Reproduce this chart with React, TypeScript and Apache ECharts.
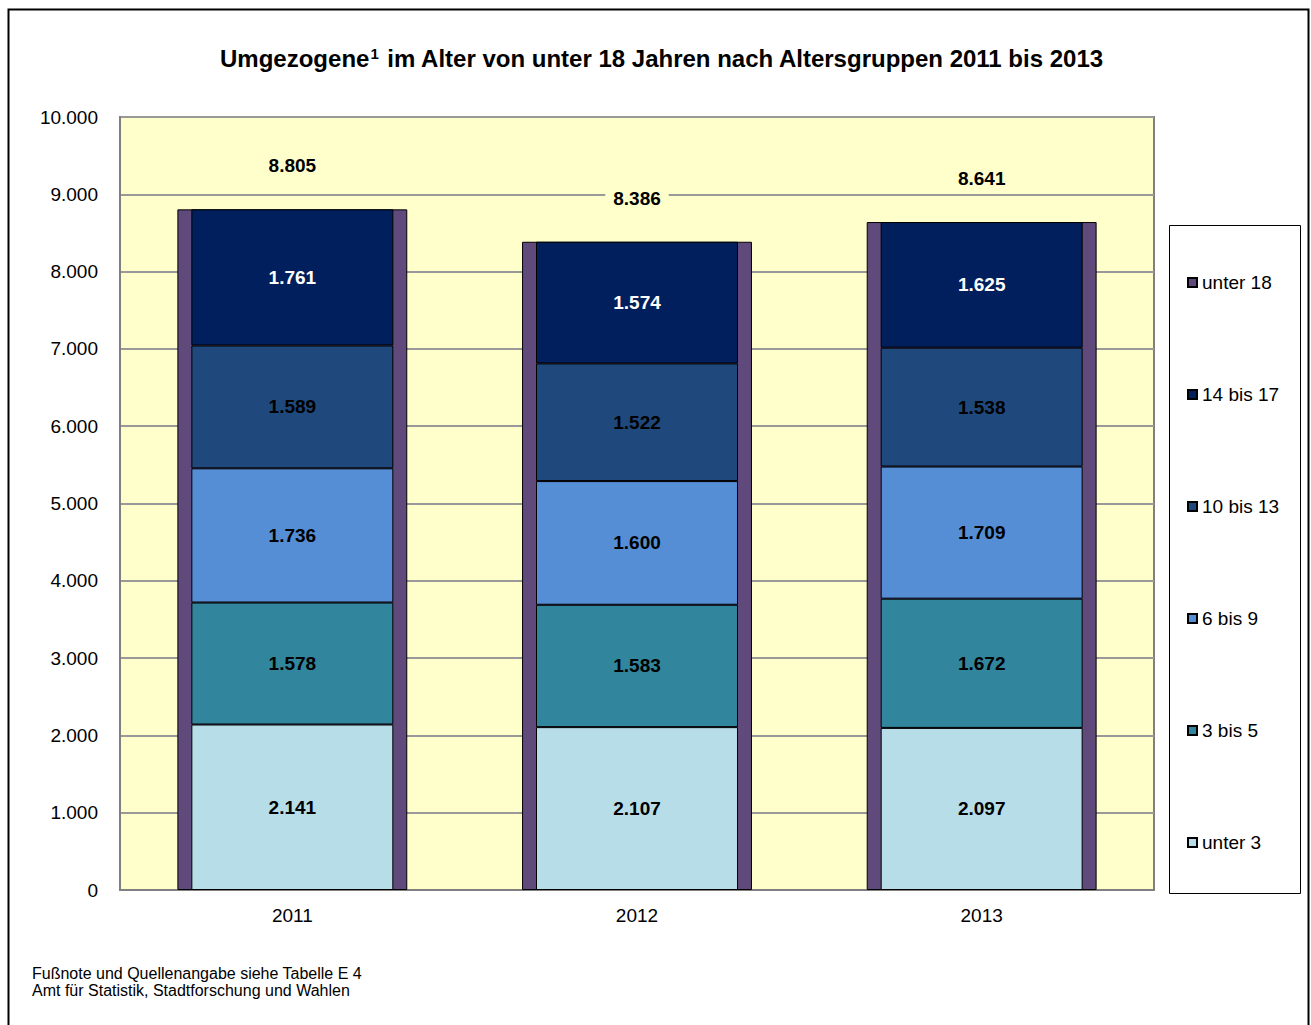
import React, { useEffect, useRef } from "react";
import * as echarts from "echarts";

const categories = ["2011", "2012", "2013"];
const seriesNames = ["unter 3", "3 bis 5", "6 bis 9", "10 bis 13", "14 bis 17"];
const unter3 = [2141, 2107, 2097];
const bis5 = [1578, 1583, 1672];
const bis9 = [1736, 1600, 1709];
const bis13 = [1589, 1522, 1538];
const bis17 = [1761, 1574, 1625];
const unter18 = [8805, 8386, 8641];
const yTicks = [0, 10000, 1000]; // min, max, interval

const colors = ["#B7DDE8", "#31859C", "#558ED5", "#1F497D", "#001F5C"];
const purple = "#604A7B";
const FONT = "'Liberation Sans', Arial, sans-serif";

const fmt = (v: number) => String(v).replace(/\B(?=(\d{3})+(?!\d))/g, ".");

export default function App() {
  const ref = useRef<HTMLDivElement>(null);
  useEffect(() => {
    if (!ref.current) return;
    const chart = echarts.init(ref.current, undefined, { renderer: "svg" });
    const stackData = [unter3, bis5, bis9, bis13, bis17];
    const stackSeries = stackData.map((d, i) => ({
      name: seriesNames[i],
      type: "bar",
      stack: "total",
      xAxisIndex: 0,
      barWidth: "58.6%",
      z: 3,
      data: d,
      itemStyle: { color: colors[i], borderColor: "#000", borderWidth: 1 },
      label: {
        show: true,
        position: "inside",
        formatter: (p: any) => fmt(p.value),
        fontFamily: FONT,
        fontWeight: "bold",
        fontSize: 19,
        color: i === 4 ? "#fff" : "#000",
      },
    }));
    const option: any = {
      animation: false,
      backgroundColor: "#fff",
      textStyle: { fontFamily: FONT },
      title: {
        text: "{a|Umgezogene}{s|1}{a| im Alter von unter 18 Jahren nach Altersgruppen 2011 bis 2013}",
        left: 657,
        textAlign: "center",
        top: 41,
        textStyle: {
          fontFamily: FONT,
          fontWeight: "bold",
          fontSize: 24,
          color: "#000",
          rich: {
            a: { fontFamily: FONT, fontWeight: "bold", fontSize: 24, color: "#000" },
            s: { fontFamily: FONT, fontWeight: "bold", fontSize: 15, color: "#000", verticalAlign: "top", padding: [0, 1, 8, 1] },
          },
        },
      },
      grid: {
        left: 120,
        top: 117,
        right: 157,
        bottom: 135,
        show: true,
        backgroundColor: "#FFFFCC",
        borderColor: "#808080",
        borderWidth: 2,
      },
      legend: {
        orient: "vertical",
        left: 1182,
        top: 268,
        itemGap: 93,
        itemWidth: 9,
        itemHeight: 9,
        icon: "rect",
        data: ["unter 18", "14 bis 17", "10 bis 13", "6 bis 9", "3 bis 5", "unter 3"],
        textStyle: { fontFamily: FONT, fontSize: 19, color: "#000", lineHeight: 18 },
      },
      xAxis: [
        {
          type: "category",
          data: categories,
          axisLine: { show: true, lineStyle: { color: "#808080", width: 2 } },
          axisTick: { show: false },
          axisLabel: { fontFamily: FONT, fontSize: 19, color: "#000", margin: 16 },
        },
        { type: "category", data: categories, show: false },
      ],
      yAxis: {
        type: "value",
        min: yTicks[0],
        max: yTicks[1],
        interval: yTicks[2],
        axisLine: { show: true, lineStyle: { color: "#808080", width: 2 } },
        axisTick: { show: false },
        splitLine: { lineStyle: { color: "#999999", width: 2 } },
        axisLabel: { fontFamily: FONT, fontSize: 19, color: "#000", margin: 22, formatter: (v: number) => fmt(v) },
      },
      graphic: [
        {
          type: "rect",
          shape: { x: 8.5, y: 9.5, width: 1300, height: 1030 },
          style: { fill: "none", stroke: "#000", lineWidth: 2 },
          z: -1,
          silent: true,
        },
        {
          type: "rect",
          shape: { x: 1169.5, y: 225.5, width: 131, height: 668 },
          style: { fill: "#fff", stroke: "#000", lineWidth: 1 },
          z: 0,
          silent: true,
        },
        {
          type: "text",
          x: 32,
          y: 965,
          style: {
            text: "Fußnote und Quellenangabe siehe Tabelle E 4\nAmt für Statistik, Stadtforschung und Wahlen",
            font: `16px ${FONT}`,
            lineHeight: 17,
            fill: "#000",
          },
          silent: true,
        },
      ],
      series: [
        {
          name: "unter 18",
          type: "bar",
          xAxisIndex: 1,
          barWidth: "66.7%",
          z: 2,
          data: unter18,
          itemStyle: { color: purple, borderColor: "#000", borderWidth: 1 },
          label: {
            show: true,
            position: "top",
            distance: 32,
            formatter: (p: any) => fmt(p.value),
            fontFamily: FONT,
            fontWeight: "bold",
            fontSize: 19,
            color: "#000",
            backgroundColor: "#FFFFCC",
            padding: [2, 8],
          },
        },
        ...stackSeries,
      ],
    };
    chart.setOption(option);
    return () => chart.dispose();
  }, []);
  return <div ref={ref} style={{ position: "fixed", left: 0, top: 0, width: 1311, height: 1025 }} />;
}
